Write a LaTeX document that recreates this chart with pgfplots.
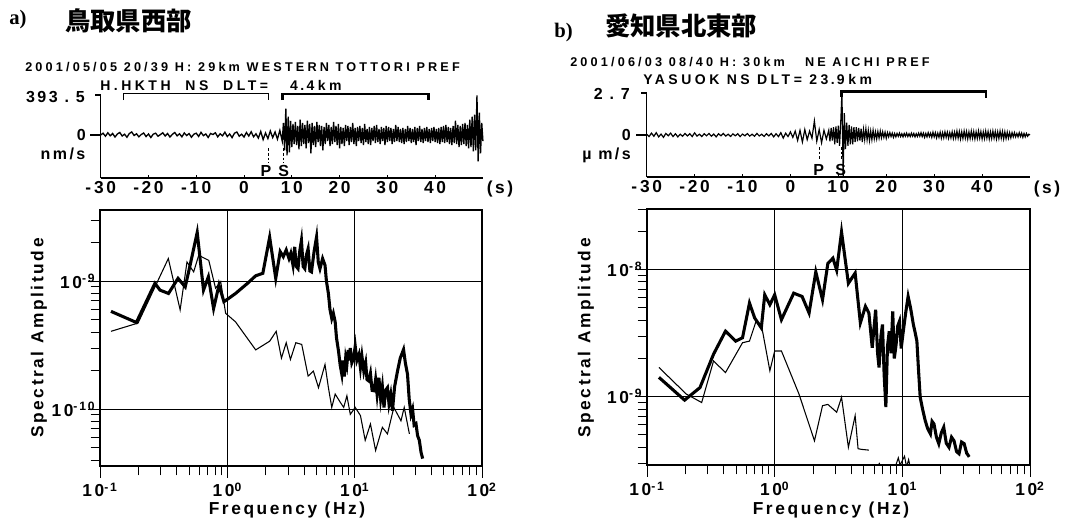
\documentclass[border=0pt]{standalone}
\usepackage{pgfplots}
\pgfplotsset{compat=1.18}
\usepackage{fontspec}
\setmainfont{Liberation Sans}
\newfontfamily\hdr[LetterSpace=25]{Liberation Sans}
\newfontfamily\lab[LetterSpace=15]{Liberation Sans}
\newfontfamily\cjk{Noto Sans CJK JP}
\newfontfamily\serif{Liberation Serif}
\newcommand{\fa}{\hdr\bfseries\fontsize{9.5}{9.5}\selectfont}
\newcommand{\fb}{\hdr\bfseries\fontsize{10.5}{10.5}\selectfont}
\newcommand{\fl}{\lab\bfseries\fontsize{12}{12}\selectfont}
\newcommand{\fs}{\lab\bfseries\fontsize{13}{13}\selectfont}
\newcommand{\ft}{\lab\bfseries\fontsize{13}{13}\selectfont}

\pgfplotsset{
 myseis/.style={anchor=south west, scale only axis, clip=false,
  xmin=-30, xmax=50, axis lines=left, axis line style={-, line width=0.9pt},
  xtick={-30,-20,-10,0,10,20,30,40},
  xticklabels={-\,30,-20,-10,0,10,20,30,40},
  ytick=\empty, tick align=inside, major tick length=2.5pt,
  tick style={black, line width=0.7pt},
  xticklabel style={font=\ft, yshift=1pt}},
 myspec/.style={anchor=south west, scale only axis,
  xmin=0.1, xmax=100,
  xtick={0.1,1,10,100},
  xticklabels={10\textsuperscript{-1},10\textsuperscript{0},10\textsuperscript{1},10\textsuperscript{2}},
  minor xtick={0.2,0.3,0.4,0.5,0.6,0.7,0.8,0.9,2,3,4,5,6,7,8,9,20,30,40,50,60,70,80,90},
  xtick pos=left, ytick pos=left, tick align=outside,
  major tick length=9pt, minor tick length=7pt,
  tick style={black, line width=0.7pt},
  grid=major, major grid style={black, line width=0.8pt},
  axis line style={line width=1pt},
  xticklabel style={font=\ft},
  yticklabel style={font=\ft, xshift=9pt}},
}

\begin{document}
\begin{tikzpicture}
\useasboundingbox (0,0) rectangle (799.5pt,-391.5pt);

% ---------- a) seismogram ----------
\begin{axis}[myseis, at={(75.5pt,-133.5pt)}, width=286.7pt, height=62.25pt,
  ymin=-423, ymax=393.5]
\addplot[black, line width=1pt] coordinates {
(-30,0)(-29.5,18)(-29,-12)(-28.5,22)(-28,-8)(-27.5,15)(-27,-20)(-26.5,10)(-26,25)(-25.5,-10)(-25,8)(-24.5,-22)(-24,15)(-23.5,30)(-23,-5)(-22.5,12)(-22,-18)(-21.5,5)(-21,20)(-20.5,-15)(-20,10)(-19.5,-25)(-19,8)(-18.5,18)(-18,-12)(-17.5,4)(-17,22)(-16.5,-10)(-16,15)(-15.5,-20)(-15,6)(-14.5,25)(-14,-8)(-13.5,12)(-13,-18)(-12.5,20)(-12,-5)(-11.5,14)(-11,-22)(-10.5,8)(-10,18)(-9.5,-14)(-9,26)(-8.5,-6)(-8,10)(-7.5,-24)(-7,15)(-6.5,5)(-6,22)(-5.5,-18)(-5,12)(-4.5,-8)(-4,28)(-3.5,-15)(-3,10)(-2.5,-26)(-2,18)(-1.5,30)(-1,-12)(-0.5,8)(0,-20)(0.5,25)(1,-10)(1.5,32)(2,-18)(2.5,12)(3,-30)(3.5,35)(4,-45)(4.5,20)(5,-35)(5.5,40)(6,-25)(6.5,30)(7,-40)(7.5,45)
(8,-60)(8.25,120)(8.5,-150)(8.75,260)(9,-200)(9.25,180)(9.5,-170)(9.75,140)(10,-120)(10.25,110)(10.5,-90)(10.75,130)(11,-100)(11.25,90)(11.5,-140)(11.75,150)(12,-110)(12.25,120)(12.5,-90)(12.75,100)(13,-130)(13.25,140)(13.5,-80)(13.75,110)(14,-180)(14.25,120)(14.5,-100)(14.75,90)(15,-120)(15.25,130)(15.5,-70)(15.75,100)(16,-110)(16.25,90)(16.5,-150)(16.75,80)(17,-90)(17.25,120)(17.5,-60)(17.75,100)(18,-110)(18.25,80)(18.5,-90)(18.75,130)(19,-70)(19.25,90)(19.5,-100)(19.75,110)(20,-130)(20.25,80)(20.5,-90)(20.75,70)(21,-110)(21.25,100)(21.5,-60)(21.75,90)(22,-100)(22.25,80)(22.5,-70)(22.75,120)(23,-90)(23.25,70)(23.5,-110)(23.75,80)(24,-60)(24.25,90)(24.5,-80)(24.75,70)(25,-100)(25.25,110)(25.5,-70)(25.75,60)(26,-90)(26.25,80)(26.5,-100)(26.75,70)(27,-60)(27.25,90)(27.5,-80)(27.75,100)(28,-70)(28.25,60)(28.5,-90)(28.75,80)(29,-60)(29.25,70)(29.5,-100)(29.75,90)(30,-70)(30.25,80)(30.5,-60)(30.75,70)(31,-90)(31.25,60)(31.5,-70)(31.75,100)(32,-60)(32.25,80)(32.5,-70)(32.75,60)(33,-80)(33.25,70)(33.5,-90)(33.75,60)(34,-70)(34.25,90)(34.5,-60)(34.75,70)(35,-80)(35.25,60)(35.5,-70)(35.75,80)(36,-100)(36.25,70)(36.5,-60)(36.75,90)(37,-70)(37.25,60)(37.5,-80)(37.75,70)(38,-60)(38.25,80)(38.5,-70)(38.75,60)(39,-80)(39.25,70)(39.5,-60)(39.75,80)(40,-70)(40.25,60)(40.5,-80)(40.75,70)(41,-90)(41.25,80)(41.5,-70)(41.75,90)(42,-80)(42.25,100)(42.5,-70)(42.75,80)(43,-90)(43.25,70)(43.5,-100)(43.75,90)(44,-80)(44.25,140)(44.5,-90)(44.75,100)(45,-120)(45.25,90)(45.5,-100)(45.75,110)(46,-90)(46.25,120)(46.5,-110)(46.75,100)(47,-130)(47.25,150)(47.5,-120)(47.75,180)(48,-160)(48.25,200)(48.5,-150)(48.75,390)(49,-260)(49.25,220)(49.5,-180)(49.75,120)(50,-60)};
\addplot[black, line width=0.7pt] coordinates {(-25.3,343)(-25.3,404)(5.1,404)(5.1,343)};
\addplot[black, line width=2pt] coordinates {(8.1,343)(8.1,404)(38.6,404)(38.6,343)};
\addplot[black, line width=0.6pt, dash pattern=on 2pt off 1.5pt] coordinates {(5.1,-131)(5.1,-273)};
\addplot[black, line width=0.6pt, dash pattern=on 2pt off 1.5pt] coordinates {(8.3,-131)(8.3,-273)};
\addplot[black, line width=0.8pt] coordinates {(-30,0)(-32.3,0)};
\addplot[black, line width=0.8pt] coordinates {(-30,393.5)(-31.2,393.5)};
\node[font=\fl] at (axis cs:4.6,-355) {P};
\node[font=\fl] at (axis cs:8.3,-355) {S};
\end{axis}

% ---------- b) seismogram ----------
\begin{axis}[myseis, at={(485pt,-132.75pt)}, width=287.5pt, height=63pt,
  ymin=-2.7, ymax=2.7]
\addplot[black, line width=0.9pt] coordinates {
(-30,0.05)(-29.5,-0.1)(-29,0.12)(-28.5,-0.08)(-28,0.15)(-27.5,-0.12)(-27,0.06)(-26.5,-0.15)(-26,0.1)(-25.5,-0.05)(-25,0.12)(-24.5,-0.1)(-24,0.08)(-23.5,-0.12)(-23,0.05)(-22.5,-0.08)(-22,0.1)(-21.5,-0.06)(-21,0.08)(-20.5,-0.1)(-20,0.14)(-19.5,-0.07)(-19,0.05)(-18.5,-0.1)(-18,0.08)(-17.5,-0.05)(-17,0.1)(-16.5,-0.08)(-16,0.06)(-15.5,-0.12)(-15,0.08)(-14.5,-0.05)(-14,0.1)(-13.5,-0.07)(-13,0.05)(-12.5,-0.09)(-12,0.07)(-11.5,-0.05)(-11,0.08)(-10.5,-0.1)(-10,0.06)(-9.5,-0.05)(-9,0.09)(-8.5,-0.07)(-8,0.05)(-7.5,-0.08)(-7,0.1)(-6.5,-0.06)(-6,0.05)(-5.5,-0.09)(-5,0.08)(-4.5,-0.06)(-4,0.1)(-3.5,-0.12)(-3,0.08)(-2.5,-0.1)(-2,0.15)(-1.5,-0.2)(-1,0.12)(-0.5,-0.1)(0,0.2)(0.5,-0.15)(1,0.25)(1.5,-0.35)(2,0.3)(2.5,-0.45)(3,0.35)(3.5,-0.3)(4,0.25)(4.5,-0.2)(5,0.9)(5.5,-0.4)(6,0.35)(6.5,-0.5)(7,0.3)(7.5,-0.25)
(8,0.3)(8.25,-0.4)(8.5,0.45)(8.75,-0.35)(9,0.5)(9.25,-0.6)(9.5,0.55)(9.75,-0.5)(10,0.6)(10.25,-0.7)(10.5,0.8)(10.75,2.75)(11,-2.7)(11.25,1.4)(11.5,-0.9)(11.75,0.8)(12,-0.7)(12.25,0.65)(12.5,-0.6)(12.75,0.55)(13,-0.6)(13.25,0.5)(13.5,-0.45)(13.75,0.5)(14,-0.4)(14.25,0.45)(14.5,-0.35)(14.75,0.4)(15,-0.45)(15.25,0.35)(15.5,-0.3)(15.75,0.4)(16,-0.3)(16.25,0.3)(16.5,-0.35)(16.75,0.25)(17,-0.3)(17.25,0.3)(17.5,-0.25)(17.75,0.2)(18,-0.25)(18.25,0.22)(18.5,-0.2)(18.75,0.25)(19,-0.18)(19.25,0.2)(19.5,-0.15)(19.75,0.18)(20,-0.2)(20.25,0.15)(20.5,-0.12)(20.75,0.15)(21,-0.1)(21.25,0.12)(21.5,-0.15)(21.75,0.1)(22,-0.12)(22.25,0.1)(22.5,-0.08)(22.75,0.12)(23,-0.1)(23.25,0.08)(23.5,-0.12)(23.75,0.1)(24,-0.08)(24.25,0.12)(24.5,-0.1)(24.75,0.08)(25,-0.1)(25.25,0.12)(25.5,-0.08)(25.75,0.1)(26,-0.12)(26.25,0.08)(26.5,-0.1)(26.75,0.12)(27,-0.08)(27.25,0.15)(27.5,-0.1)(27.75,0.12)(28,-0.15)(28.25,0.1)(28.5,-0.12)(28.75,0.15)(29,-0.1)(29.25,0.12)(29.5,-0.15)(29.75,0.18)(30,-0.12)(30.25,0.15)(30.5,-0.18)(30.75,0.12)(31,-0.15)(31.25,0.18)(31.5,-0.2)(31.75,0.15)(32,-0.18)(32.25,0.2)(32.5,-0.15)(32.75,0.18)(33,-0.2)(33.25,0.15)(33.5,-0.18)(33.75,0.2)(34,-0.22)(34.25,0.18)(34.5,-0.2)(34.75,0.25)(35,-0.2)(35.25,0.22)(35.5,-0.25)(35.75,0.2)(36,-0.22)(36.25,0.25)(36.5,-0.2)(36.75,0.22)(37,-0.25)(37.25,0.2)(37.5,-0.22)(37.75,0.25)(38,-0.2)(38.25,0.22)(38.5,-0.25)(38.75,0.2)(39,-0.22)(39.25,0.25)(39.5,-0.2)(39.75,0.22)(40,-0.25)(40.25,0.2)(40.5,-0.22)(40.75,0.25)(41,-0.2)(41.25,0.22)(41.5,-0.25)(41.75,0.2)(42,-0.22)(42.25,0.25)(42.5,-0.2)(42.75,0.22)(43,-0.25)(43.25,0.2)(43.5,-0.22)(43.75,0.25)(44,-0.2)(44.25,0.22)(44.5,-0.25)(44.75,0.2)(45,-0.22)(45.25,0.18)(45.5,-0.2)(45.75,0.15)(46,-0.18)(46.25,0.15)(46.5,-0.12)(46.75,0.15)(47,-0.12)(47.25,0.1)(47.5,-0.12)(47.75,0.15)(48,-0.1)(48.25,0.12)(48.5,-0.15)(48.75,0.1)(49,-0.12)(49.25,0.1)(49.5,-0.08)(49.75,0.05)(50,0)};
\addplot[black, line width=2pt] coordinates {(10.6,2.45)(10.6,2.78)(40.8,2.78)(40.8,2.4)};
\addplot[black, line width=0.6pt, dash pattern=on 2pt off 1.5pt] coordinates {(6.1,-0.77)(6.1,-1.6)};
\addplot[black, line width=0.6pt, dash pattern=on 2pt off 1.5pt] coordinates {(10.6,-0.77)(10.6,-1.6)};
\addplot[black, line width=0.8pt] coordinates {(-30,0)(-32.3,0)};
\addplot[black, line width=0.8pt] coordinates {(-30,2.7)(-31.2,2.7)};
\node[font=\fl] at (axis cs:5.9,-2.25) {P};
\node[font=\fl] at (axis cs:10.5,-2.25) {S};
\end{axis}

% ---------- a) spectrum ----------
\begin{axis}[xmode=log, ymode=log, myspec, at={(75pt,-349.5pt)}, width=286.5pt, height=192pt,
  ymin=3.59e-11, ymax=3.59e-9, ytick={1e-10,1e-9},
  yticklabels={10\textsuperscript{-10},10\textsuperscript{-9}},
  minor ytick={4e-11,5e-11,6e-11,7e-11,8e-11,9e-11,2e-10,3e-10,4e-10,5e-10,6e-10,7e-10,8e-10,9e-10,2e-9,3e-9}]
\addplot[black, line width=0.8pt] coordinates {
(0.122,4.05e-10)(0.199,4.7e-10)(0.344,1.5e-9)(0.426,5.96e-10)(0.482,1.41e-9)(0.544,1.18e-9)(0.596,1.59e-9)(0.715,1.45e-9)(0.808,8.8e-10)(0.887,9.9e-10)(0.97,5.6e-10)(1.16,4.8e-10)(1.67,2.9e-10)(2.15,3.39e-10)(2.42,4.05e-10)(2.66,2.5e-10)(2.9,3.3e-10)(3.13,2.44e-10)(3.45,3.3e-10)(3.84,3.2e-10)(4.31,1.81e-10)(4.74,1.98e-10)(5.2,1.47e-10)(5.85,2.23e-10)(6.22,1.47e-10)(6.61,1.03e-10)(7.03,1.31e-10)(7.71,1.13e-10)(8.2,1.03e-10)(8.69,1.27e-10)(9.24,9.1e-11)(10.1,1.03e-10)(11.1,8.9e-11)(12.1,5.7e-11)(13.3,7.65e-11)(14.6,4.75e-11)(16.5,7.2e-11)(18.1,6.4e-11)(20.3,1.03e-10)(23.1,8.1e-11)(24.5,1.03e-10)(26.9,6.4e-11)};
\addplot[black, line width=2.3pt] coordinates {
(0.122,5.8e-10)(0.193,4.75e-10)(0.27,9.6e-10)(0.296,8.5e-10)(0.345,8.0e-10)(0.41,1.05e-9)(0.467,9.0e-10)(0.51,1.33e-9)(0.58,2.4e-9)(0.65,8.5e-10)(0.71,1.08e-9)(0.78,6.1e-10)(0.86,9.3e-10)(0.94,6.9e-10)(1.02,7.3e-10)(1.16,8.0e-10)(1.44,9.6e-10)(1.67,1.1e-9)(1.9,1.15e-9)(2.15,2.2e-9)(2.4,1.05e-9)(2.6,1.7e-9)(2.75,1.55e-9)(2.9,1.75e-9)(3.05,1.5e-9)(3.15,1.65e-9)(3.28,1.33e-9)(3.38,1.85e-9)(3.48,1.3e-9)(3.59,1.25e-9)(3.7,1.7e-9)(3.82,2.08e-9)(3.94,1.3e-9)(4.06,1.25e-9)(4.18,1.6e-9)(4.31,1.79e-9)(4.45,1.2e-9)(4.58,1.18e-9)(4.8,1.7e-9)(5.02,2.21e-9)(5.18,1.4e-9)(5.34,1.25e-9)(5.6,1.5e-9)(5.85,1.33e-9)(6.0,1.0e-9)(6.22,8.0e-10)(6.4,6.0e-10)(6.61,5.1e-10)(6.8,5.6e-10)(7.03,4.8e-10)(7.2,3.6e-10)(7.47,2.83e-10)(7.7,2.2e-10)(7.93,1.87e-10)(8.1,2.4e-10)(8.3,1.8e-10)(8.5,2.5e-10)(8.69,2.23e-10)(8.9,2.9e-10)(9.05,2.4e-10)(9.24,3.0e-10)(9.5,2.3e-10)(9.82,2.5e-10)(10.1,3.1e-10)(10.4,2.4e-10)(10.8,2.67e-10)(11.1,2.1e-10)(11.4,2.6e-10)(11.8,1.98e-10)(12.2,2.3e-10)(12.5,1.7e-10)(12.9,1.66e-10)(13.3,1.9e-10)(13.7,1.4e-10)(14.2,1.39e-10)(14.6,1.7e-10)(15.0,1.3e-10)(15.5,1.76e-10)(16.0,1.2e-10)(16.5,1.5e-10)(17.0,1.03e-10)(17.5,1.4e-10)(18.1,1.47e-10)(18.6,1.1e-10)(19.2,1.3e-10)(19.8,9.7e-11)(20.6,1.5e-10)(21.7,1.98e-10)(22.8,2.5e-10)(24.2,2.92e-10)(25.0,2.3e-10)(26.0,1.87e-10)(26.8,1.2e-10)(27.7,9.1e-11)(28.5,1.0e-10)(29.3,7.5e-11)(30.3,7.7e-11)(31.2,6.2e-11)(32.2,5.7e-11)(33.2,4.6e-11)(34.2,4.1e-11)};
\end{axis}

% ---------- b) spectrum ----------
\begin{axis}[xmode=log, ymode=log, myspec, at={(485.25pt,-348.75pt)}, width=287.25pt, height=192pt,
  ymin=2.9e-10, ymax=3.0e-8, ytick={1e-9,1e-8},
  yticklabels={10\textsuperscript{-9},10\textsuperscript{-8}},
  minor ytick={3e-10,4e-10,5e-10,6e-10,7e-10,8e-10,9e-10,2e-9,3e-9,4e-9,5e-9,6e-9,7e-9,8e-9,9e-9,2e-8,3e-8}]
\addplot[black, line width=0.8pt] coordinates {
(0.124,1.7e-9)(0.203,1.05e-9)(0.268,9.0e-10)(0.332,1.91e-9)(0.412,1.55e-9)(0.56,2.66e-9)(0.635,2.74e-9)(0.715,3.93e-9)(0.786,3.7e-9)(0.917,1.6e-9)(1.0,2.29e-9)(1.13,2.29e-9)(1.55,1.05e-9)(2.05,4.5e-10)(2.37,8.5e-10)(2.61,8.7e-10)(3.06,7.55e-10)(3.34,9.9e-10)(3.78,4.0e-10)(4.27,7.1e-10)(4.5,3.9e-10)(4.8,3.85e-10)(5.47,3.8e-10)};
\addplot[black, line width=0.8pt] coordinates {
(6.2,2.6e-10)(6.6,2.98e-10)(7.0,2.7e-10)(8.8,2.8e-10)(9.3,3.3e-10)(9.6,2.9e-10)(10.4,3.4e-10)(10.8,2.8e-10)(11.2,3.2e-10)(11.6,2.7e-10)};
\addplot[black, line width=2.3pt] coordinates {
(0.124,1.42e-9)(0.197,9.4e-10)(0.26,1.18e-9)(0.332,2.16e-9)(0.412,3.28e-9)(0.495,2.74e-9)(0.56,2.91e-9)(0.635,5.46e-9)(0.697,4.17e-9)(0.786,3.48e-9)(0.836,6.34e-9)(0.917,5.3e-9)(1.0,6.34e-9)(1.13,4.04e-9)(1.41,6.53e-9)(1.64,6.15e-9)(1.86,4.56e-9)(2.1,9.6e-9)(2.37,5.8e-9)(2.61,1.12e-8)(2.86,1.23e-8)(3.06,9.9e-9)(3.34,1.98e-8)(3.78,7.8e-9)(4.27,9.4e-9)(4.69,3.81e-9)(5.14,5.14e-9)(5.47,4.56e-9)(5.81,2.43e-9)(6.18,4.84e-9)(6.4,2.2e-9)(6.57,1.7e-9)(6.8,3.0e-9)(6.99,3.7e-9)(7.2,1.5e-9)(7.43,8.3e-10)(7.65,2.5e-9)(7.9,3.28e-9)(8.15,2.2e-9)(8.41,4.7e-9)(8.65,2.0e-9)(8.94,2.58e-9)(9.2,3.6e-9)(9.5,3.93e-9)(9.8,2.4e-9)(10.1,3.09e-9)(10.6,4.5e-9)(11.1,6.15e-9)(11.6,5.0e-9)(12.2,3.7e-9)(12.6,3.2e-9)(13.0,2.74e-9)(13.4,1.6e-9)(13.8,9.9e-10)(14.4,8.0e-10)(15.1,6.5e-10)(15.8,5.6e-10)(16.6,5.1e-10)(17.1,6.4e-10)(17.7,6.1e-10)(18.5,4.8e-10)(19.3,4.27e-10)(20.2,5.2e-10)(21.1,5.75e-10)(22.1,4.3e-10)(23.2,4.0e-10)(24.3,4.8e-10)(25.4,4.5e-10)(26.6,3.7e-10)(27.8,3.56e-10)(29.1,4.4e-10)(30.5,4.27e-10)(31.9,3.6e-10)(33.4,3.36e-10)};
\end{axis}

% ---------- texts (pixel coordinates) ----------
\begin{scope}[x=0.75pt,y=-0.75pt]
\node[anchor=west,inner sep=0] at (9,20) {\serif\bfseries\fontsize{15.5}{15.5}\selectfont a)};
\node[anchor=west,inner sep=0] at (65,21) {\cjk\bfseries\fontsize{19}{19}\selectfont 鳥取県西部};
\node[anchor=west,inner sep=0] at (554,33) {\serif\bfseries\fontsize{15.5}{15.5}\selectfont b)};
\node[anchor=west,inner sep=0] at (605,26) {\cjk\bfseries\fontsize{19}{19}\selectfont 愛知県北東部};
\node[anchor=west,inner sep=0] at (25,67) {\fa 2001/05/05 20/39 H: 29km WESTERN TOTTORI PREF};
\node[anchor=west,inner sep=0] at (100,85) {\fb H.HKTH\ \ NS\ \ DLT=\ \ \ 4\,.\,4km};
\node[anchor=west,inner sep=0] at (570,62) {\fa 2001/06/03 08/40 H:\ 30km\ \ \ NE AICHI PREF};
\node[anchor=west,inner sep=0] at (643,80) {\fb YASUOK NS DLT= 23\,.\,9km};
\node[anchor=east,inner sep=0,font=\fl] at (85,97) {393\ .\ 5};
\node[anchor=east,inner sep=0,font=\fl] at (86,135) {0};
\node[inner sep=0,font=\fl] at (63,154) {nm/s};
\node[inner sep=0,font=\ft] at (500,189) {(s)};
\node[anchor=east,inner sep=0,font=\fl] at (630,94) {2\ .\ 7};
\node[anchor=east,inner sep=0,font=\fl] at (631,135) {0};
\node[anchor=east,inner sep=0,font=\fl] at (631,155) {µ\ m/s};
\node[inner sep=0,font=\ft] at (1047,189) {(s)};
\node[rotate=90,inner sep=0,font=\fs] at (39,338) {Spectral Amplitude};
\node[rotate=90,inner sep=0,font=\fs] at (586,338) {Spectral Amplitude};
\node[inner sep=0,font=\ft] at (287,510) {Frequency (Hz)};
\node[inner sep=0,font=\ft] at (831,510) {Frequency (Hz)};
\end{scope}
\end{tikzpicture}
\end{document}
